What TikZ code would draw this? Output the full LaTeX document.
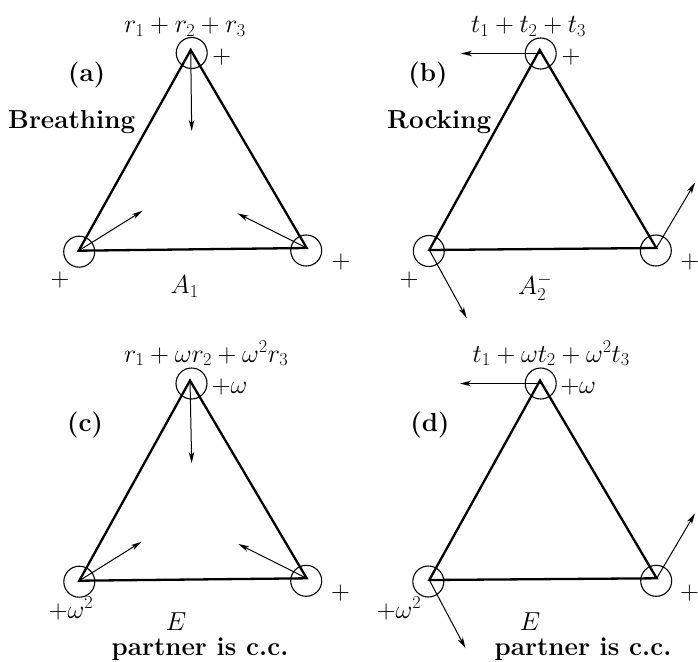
\RequirePackage{fix-cm}
\documentclass[tikz,border=0pt]{standalone}
\usetikzlibrary{arrows.meta}
\begin{document}
\begin{tikzpicture}[x=1pt,y=-1pt,
  tri/.style={line width=2.3pt,line join=miter},
  ring/.style={line width=1.1pt},
  vec/.style={line width=1pt,-{Stealth[length=11pt,width=5.5pt,inset=3pt]}},
  txt/.style={inner sep=0pt,font=\fontsize{26}{31}\selectfont}]
\useasboundingbox (0,0) rectangle (698,661);

% ---------------- panel (a)
\coordinate (a1) at (190.7,50);
\coordinate (a2) at (78.7,250.7);
\coordinate (a3) at (306.7,248);
\coordinate (aT) at (191.7,131);
\coordinate (aL) at (142.7,210.7);
\coordinate (aR) at (237.3,213.3);
\draw[tri] (a1) -- (a2) -- (a3) -- cycle;
\draw[ring] ([shift={(1,3)}]a1) circle[radius=15.5];
\draw[ring] ([shift={(0.5,1)}]a2) circle[radius=15.5];
\draw[ring] ([shift={(-0.5,2.5)}]a3) circle[radius=15.5];
\draw[vec] (a1) -- (aT);
\draw[vec] (a2) -- (aL);
\draw[vec] (a3) -- (aR);
\node[txt,anchor=base west] (fa) at (124,33) {$r_1+r_2+r_3$};
\node[txt] (la) at (86.7,75) {\textbf{(a)}};
\node[txt,anchor=base] (na) at (71.7,128) {\textbf{Breathing}};
\node[txt] (pa1) at (221.7,57.5) {$+$};
\node[txt] (pa2) at (60,280) {$+$};
\node[txt] (pa3) at (341,261.7) {$+$};
\node[txt,anchor=base west] (ia) at (170.5,293.5) {$A_1$};

% ---------------- panel (b)
\coordinate (b1) at (539.7,50);
\coordinate (b2) at (429.3,250);
\coordinate (b3) at (656.3,248);
\coordinate (bc1) at (540.7,53.5);
\coordinate (bT) at (461,53.5);
\coordinate (bL) at (466.7,318);
\coordinate (bR) at (695,182.7);
\draw[tri] (b1) -- (b2) -- (b3) -- cycle;
\draw[ring] (bc1) circle[radius=15.5];
\draw[ring] ([shift={(-0.5,1)}]b2) circle[radius=15.5];
\draw[ring] ([shift={(-0.5,2.5)}]b3) circle[radius=15.5];
\draw[vec] (bc1) -- (bT);
\draw[vec] (b2) -- (bL);
\draw[vec] (b3) -- (bR);
\node[txt,anchor=base west] (fb) at (471,33) {$t_1+t_2+t_3$};
\node[txt] (lb) at (428,75) {\textbf{(b)}};
\node[txt,anchor=base] (nb) at (439.2,128) {\textbf{Rocking}};
\node[txt] (pb1) at (571,57.5) {$+$};
\node[txt] (pb2) at (409.3,280) {$+$};
\node[txt] (pb3) at (690,261.7) {$+$};
\node[txt,anchor=base west] (ib) at (518,294) {$A_2^-$};

% ---------------- panel (c)
\coordinate (c1) at (190,380.5);
\coordinate (c2) at (79.3,580.7);
\coordinate (c3) at (306.7,578.3);
\coordinate (cT) at (191.7,463);
\coordinate (cL) at (141.7,541.7);
\coordinate (cR) at (238.3,544);
\draw[tri] (c1) -- (c2) -- (c3) -- cycle;
\draw[ring] ([shift={(1.5,3)}]c1) circle[radius=15.5];
\draw[ring] ([shift={(0,1)}]c2) circle[radius=15.5];
\draw[ring] ([shift={(-0.5,2.5)}]c3) circle[radius=15.5];
\draw[vec] (c1) -- (cT);
\draw[vec] (c2) -- (cL);
\draw[vec] (c3) -- (cR);
\node[txt,anchor=base west] (fc) at (124,362) {$r_1+\omega r_2+\omega^2 r_3$};
\node[txt] (lc) at (85,425) {\textbf{(c)}};
\node[txt,anchor=west] (pc1) at (211.6,387) {$+\omega$};
\node[txt,anchor=base west] (pc2) at (48.6,618) {$+\omega^2$};
\node[txt] (pc3) at (340.5,592.7) {$+$};
\node[txt,anchor=base] (ic) at (176,630) {$E$};
\node[txt,anchor=base] (qc) at (200,655) {\textbf{partner is c.c.}};

% ---------------- panel (d)
\coordinate (d1) at (540,380.5);
\coordinate (d2) at (429.3,580);
\coordinate (d3) at (656.7,578.3);
\coordinate (dc1) at (540.7,383.5);
\coordinate (dT) at (460,383.5);
\coordinate (dL) at (465.5,648.3);
\coordinate (dR) at (695,513.3);
\draw[tri] (d1) -- (d2) -- (d3) -- cycle;
\draw[ring] (dc1) circle[radius=15.5];
\draw[ring] ([shift={(-1,1.5)}]d2) circle[radius=15.5];
\draw[ring] ([shift={(-0.5,2.5)}]d3) circle[radius=15.5];
\draw[vec] (dc1) -- (dT);
\draw[vec] (d2) -- (dL);
\draw[vec] (d3) -- (dR);
\node[txt,anchor=base west] (fd) at (472.5,362) {$t_1+\omega t_2+\omega^2 t_3$};
\node[txt] (ld) at (430,425) {\textbf{(d)}};
\node[txt,anchor=west] (pd1) at (560.3,387) {$+\omega$};
\node[txt,anchor=base west] (pd2) at (376.6,618) {$+\omega^2$};
\node[txt] (pd3) at (689.5,593) {$+$};
\node[txt,anchor=base] (id) at (530,630) {$E$};
\node[txt,anchor=base] (qd) at (583,655) {\textbf{partner is c.c.}};
\end{tikzpicture}
\end{document}
